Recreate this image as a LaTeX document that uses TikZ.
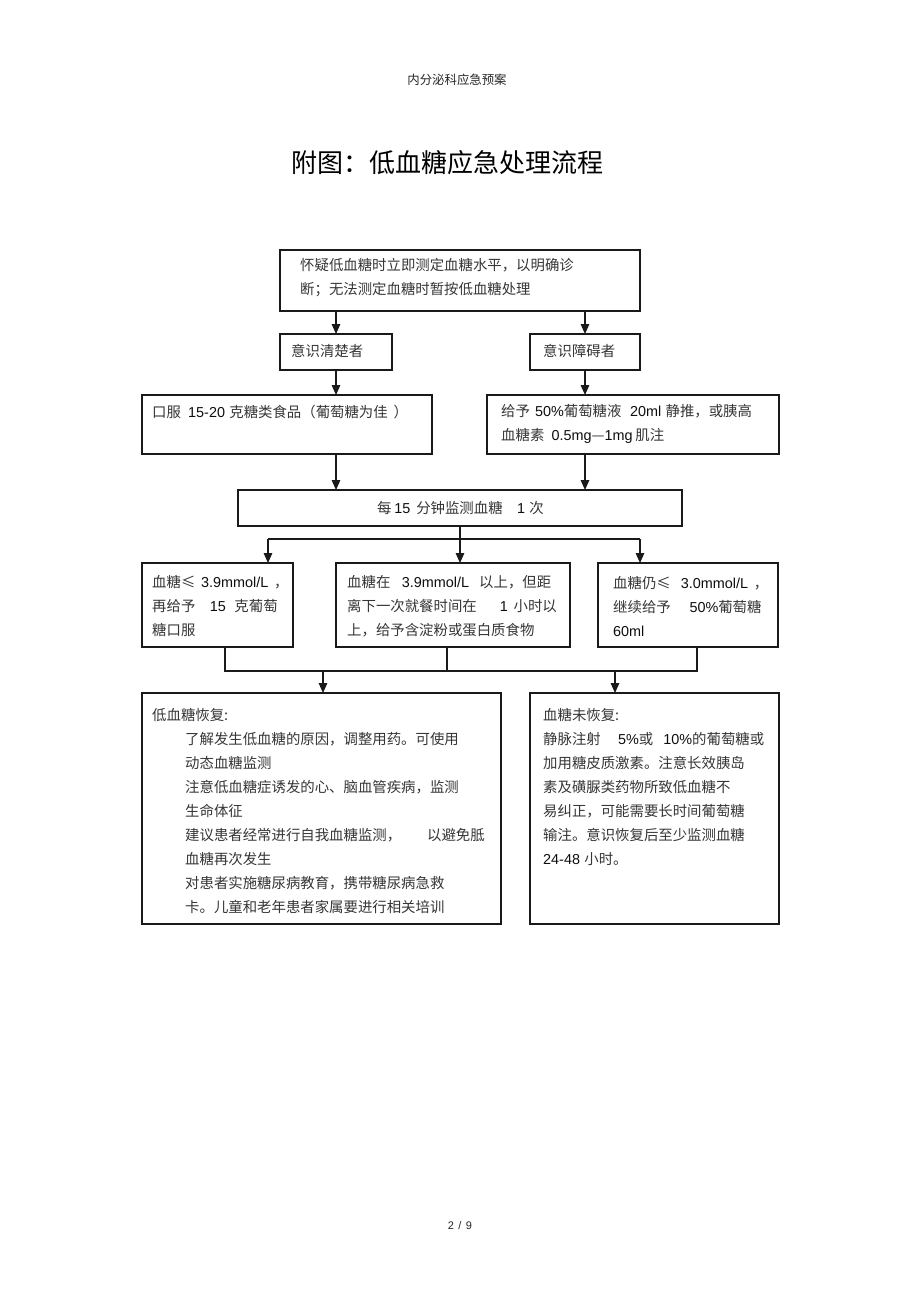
\documentclass[tikz,border=0pt]{standalone}
\usepackage{fontspec}
\setmainfont{Liberation Sans}
\newfontfamily\cjk{Noto Sans CJK SC}
\newfontfamily\latf{Liberation Sans}
\usetikzlibrary{arrows.meta}
\definecolor{txtc}{HTML}{363636}
\definecolor{numc}{HTML}{0E0E0E}
\definecolor{linec}{HTML}{1A1A1A}
\newcommand\nm[1]{{\latf\color{numc}#1}}
\begin{document}
\begin{tikzpicture}[x=1pt,y=-1pt,
  boxst/.style={draw=linec, line width=1.35pt, inner sep=0pt, outer sep=0pt},
  txt/.style={inner sep=0pt, anchor=west, align=left, text=txtc,
    font=\cjk\fontsize{14.4}{24}\selectfont},
  conn/.style={draw=linec, line width=1.5pt},
  arr/.style={conn, -{Triangle[length=10pt,width=8.5pt]}}]
\fill[white] (0,0) rectangle (920,1303);
\useasboundingbox (0,0) rectangle (920,1303);

% header, title, footer
\node[inner sep=0pt, text=black!85, font=\cjk\fontsize{12.4}{14}\selectfont] (hdr) at (457,80) {内分泌科应急预案};
\node[inner sep=0pt, text=black, font=\cjk\fontsize{26}{30}\selectfont] (title) at (447.5,163) {附图：低血糖应急处理流程};
\node[inner sep=0pt, text=black!85, font=\latf\fontsize{11}{13}\selectfont] (ftr) at (460,1226) {2\hspace{0.4em}/\hspace{0.4em}9};

% boxes
\node[boxst, minimum width=360pt, minimum height=61pt] (top) at (460,280.5) {};
\node[boxst, minimum width=112pt, minimum height=36pt] (A) at (336,352) {};
\node[boxst, minimum width=110pt, minimum height=36pt] (B) at (585,352) {};
\node[boxst, minimum width=290pt, minimum height=59pt] (C) at (287,424.5) {};
\node[boxst, minimum width=292pt, minimum height=59pt] (D) at (633,424.5) {};
\node[boxst, minimum width=444pt, minimum height=36pt] (E) at (460,508) {};
\node[boxst, minimum width=151pt, minimum height=84pt] (F1) at (217.5,605) {};
\node[boxst, minimum width=234pt, minimum height=84pt] (F2) at (453,605) {};
\node[boxst, minimum width=180pt, minimum height=84pt] (F3) at (688,605) {};
\node[boxst, minimum width=359pt, minimum height=231pt] (G1) at (321.5,808.5) {};
\node[boxst, minimum width=249pt, minimum height=231pt] (G2) at (654.5,808.5) {};

% texts
\node[txt] (tT) at (300,278) {怀疑低血糖时立即测定血糖水平，以明确诊\\断；无法测定血糖时暂按低血糖处理};
\node[txt] (tA) at (291,351) {意识清楚者};
\node[txt] (tB) at (543,351) {意识障碍者};
\node[txt] (tC) at (152,412) {口服\hspace{0.5em}\nm{15-20}\hspace{0.3em}克糖类食品（葡萄糖为佳\hspace{0.4em}）};
\node[txt] (tD) at (501,424) {给予\hspace{0.35em}\nm{50\%}葡萄糖液\hspace{0.6em}\nm{20ml}\hspace{0.3em}静推，或胰高\\血糖素\hspace{0.5em}\nm{0.5mg}—\nm{1mg}\hspace{0.2em}肌注};
\node[txt] (tE) at (377,508) {每\hspace{0.2em}\nm{15}\hspace{0.4em}分钟监测血糖\hspace{1em}\nm{1}\hspace{0.3em}次};
\node[txt] (tF1) at (152,606) {血糖≤\hspace{0.4em}\nm{3.9mmol/L}\hspace{0.4em}，\\再给予\hspace{1em}\nm{15}\hspace{0.6em}克葡萄\\糖口服};
\node[txt] (tF2) at (347,606) {血糖在\hspace{0.8em}\nm{3.9mmol/L}\hspace{0.7em}以上，但距\\离下一次就餐时间在\hspace{1.6em}\nm{1}\hspace{0.4em}小时以\\上，给予含淀粉或蛋白质食物};
\node[txt] (tF3) at (613,606) {血糖仍≤\hspace{0.7em}\nm{3.0mmol/L}\hspace{0.4em}，\\继续给予\hspace{1.3em}\nm{50\%}葡萄糖\\\nm{60ml}};
\node[txt] (tG1h) at (152,715) {低血糖恢复:};
\node[txt] (tG1) at (185,823.5) {了解发生低血糖的原因，调整用药。可使用\\动态血糖监测\\注意低血糖症诱发的心、脑血管疾病，监测\\生命体征\\建议患者经常进行自我血糖监测，\hspace{1.8em}以避免胝\\血糖再次发生\\对患者实施糖尿病教育，携带糖尿病急救\\卡。儿童和老年患者家属要进行相关培训};
\node[txt] (tG2) at (543,787) {血糖未恢复:\\静脉注射\hspace{1.2em}\nm{5\%}或\hspace{0.7em}\nm{10\%}的葡萄糖或\\加用糖皮质激素。注意长效胰岛\\素及磺脲类药物所致低血糖不\\易纠正，可能需要长时间葡萄糖\\输注。意识恢复后至少监测血糖\\\nm{24-48}\hspace{0.3em}小时。};

% connectors
\draw[arr] (A.north |- top.south) -- (A.north);
\draw[arr] (B.north |- top.south) -- (B.north);
\draw[arr] (A.south) -- (A.south |- C.north);
\draw[arr] (B.south) -- (B.south |- D.north);
\draw[arr] (A.south |- C.south) -- (A.south |- E.north);
\draw[arr] (B.south |- D.south) -- (B.south |- E.north);

\coordinate (h1) at (268,539);
\coordinate (h3) at (640,539);
\draw[conn] (E.south) -- (E.south |- h1);
\draw[conn] (h1) -- (h3);
\draw[arr] (h1) -- (h1 |- F1.north);
\draw[arr] (E.south |- h1) -- (E.south |- F2.north);
\draw[arr] (h3) -- (h3 |- F3.north);

\coordinate (m1) at (225,671);
\coordinate (m2) at (447,671);
\coordinate (m3) at (697,671);
\draw[conn, line width=1.2pt] (m1 |- F1.south) -- (m1) -- (m3) -- (m3 |- F3.south);
\draw[conn, line width=1.2pt] (m2 |- F2.south) -- (m2);
\coordinate (q1) at (323,671);
\coordinate (q2) at (615,671);
\draw[arr] (q1) -- (q1 |- G1.north);
\draw[arr] (q2) -- (q2 |- G2.north);
\end{tikzpicture}
\end{document}
